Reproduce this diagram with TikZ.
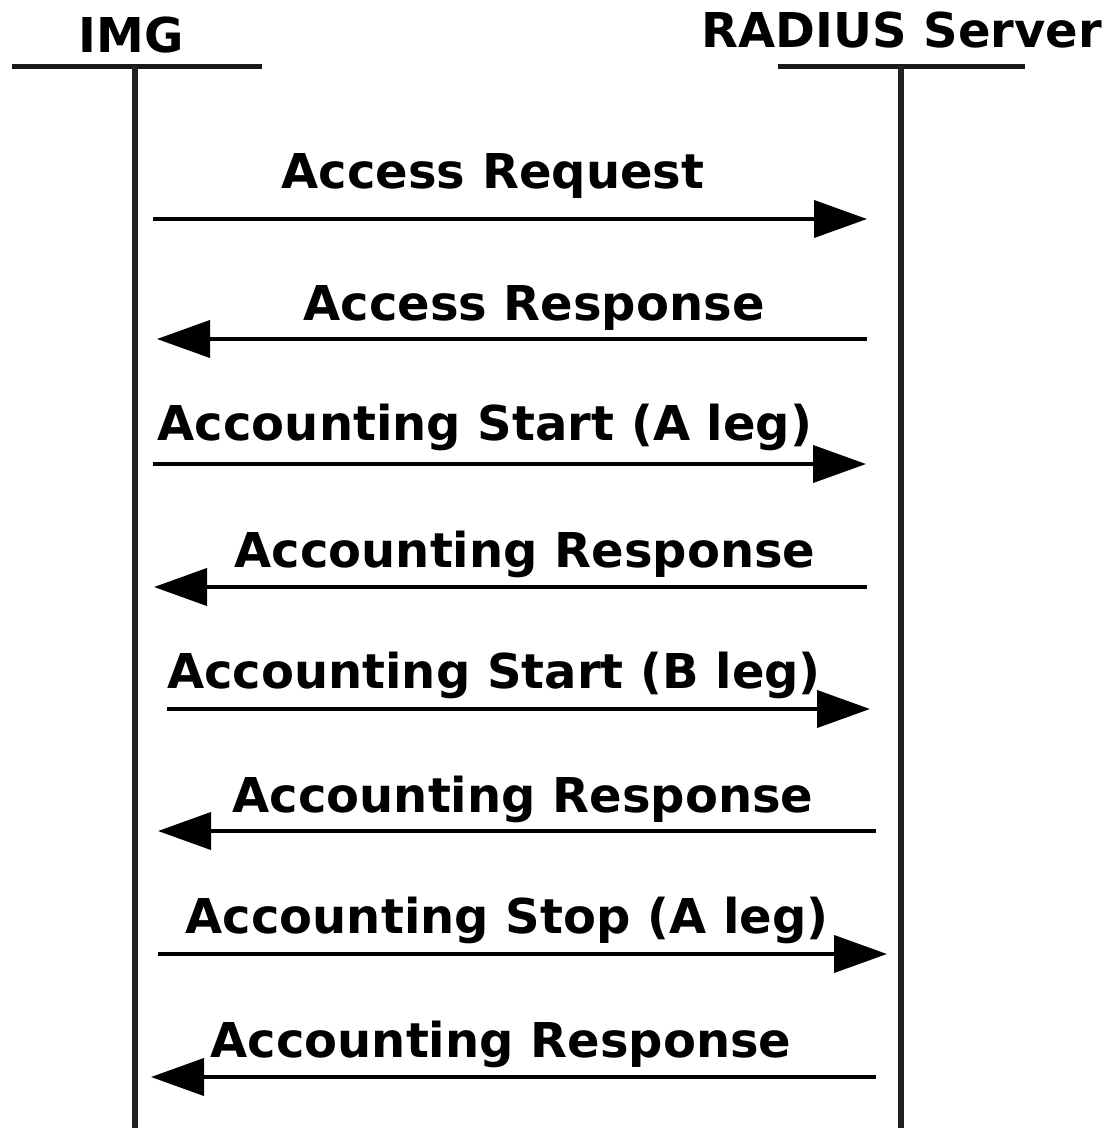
\documentclass[tikz,border=0pt]{standalone}
\usepackage{fontspec}
\setmainfont{DejaVu Sans}
\usetikzlibrary{arrows.meta}
\begin{document}
\begin{tikzpicture}[x=1pt,y=-1pt,
  lbl/.style={font=\bfseries\fontsize{48}{58}\selectfont, inner sep=0pt, anchor=base},
  head/.style={line width=5pt, black!90},
  life/.style={line width=6pt, black!87},
  msg/.style={line width=4pt, black, -{Triangle[length=53pt,width=37pt]}}]
  \useasboundingbox (0,0) rectangle (1116,1128);

  % participants
  \node[lbl] (img) at (131,52) {IMG};
  \node[lbl] (rad) at (902,47) {RADIUS Server};
  \coordinate (imgL) at (12,66);  \coordinate (imgR) at (262,66);
  \coordinate (radL) at (778,66); \coordinate (radR) at (1025,66);
  \coordinate (imgTop) at (135,66); \coordinate (imgBot) at (135,1128);
  \coordinate (radTop) at (901,66); \coordinate (radBot) at (901,1128);
  \draw[head] (imgL) -- (imgR);
  \draw[head] (radL) -- (radR);
  \draw[life] (imgTop) -- (imgBot);
  \draw[life] (radTop) -- (radBot);

  % message end points
  \coordinate (m1a) at (153,219);  \coordinate (m1b) at (867,219);
  \coordinate (m2a) at (867,339);  \coordinate (m2b) at (157,339);
  \coordinate (m3a) at (153,464);  \coordinate (m3b) at (866,464);
  \coordinate (m4a) at (867,587);  \coordinate (m4b) at (154,587);
  \coordinate (m5a) at (167,709);  \coordinate (m5b) at (870,709);
  \coordinate (m6a) at (876,831);  \coordinate (m6b) at (158,831);
  \coordinate (m7a) at (158,954);  \coordinate (m7b) at (887,954);
  \coordinate (m8a) at (876,1077); \coordinate (m8b) at (151,1077);

  \draw[msg] (m1a) -- (m1b);
  \draw[msg] (m2a) -- (m2b);
  \draw[msg] (m3a) -- (m3b);
  \draw[msg] (m4a) -- (m4b);
  \draw[msg] (m5a) -- (m5b);
  \draw[msg] (m6a) -- (m6b);
  \draw[msg] (m7a) -- (m7b);
  \draw[msg] (m8a) -- (m8b);

  % message labels
  \node[lbl] (t1) at (493,188)  {Access Request};
  \node[lbl] (t2) at (534,320)  {Access Response};
  \node[lbl] (t3) at (485,440)  {Accounting Start (A leg)};
  \node[lbl] (t4) at (525,567)  {Accounting Response};
  \node[lbl] (t5) at (494,688)  {Accounting Start (B leg)};
  \node[lbl] (t6) at (523,812)  {Accounting Response};
  \node[lbl] (t7) at (507,933)  {Accounting Stop (A leg)};
  \node[lbl] (t8) at (501,1057) {Accounting Response};
\end{tikzpicture}
\end{document}
